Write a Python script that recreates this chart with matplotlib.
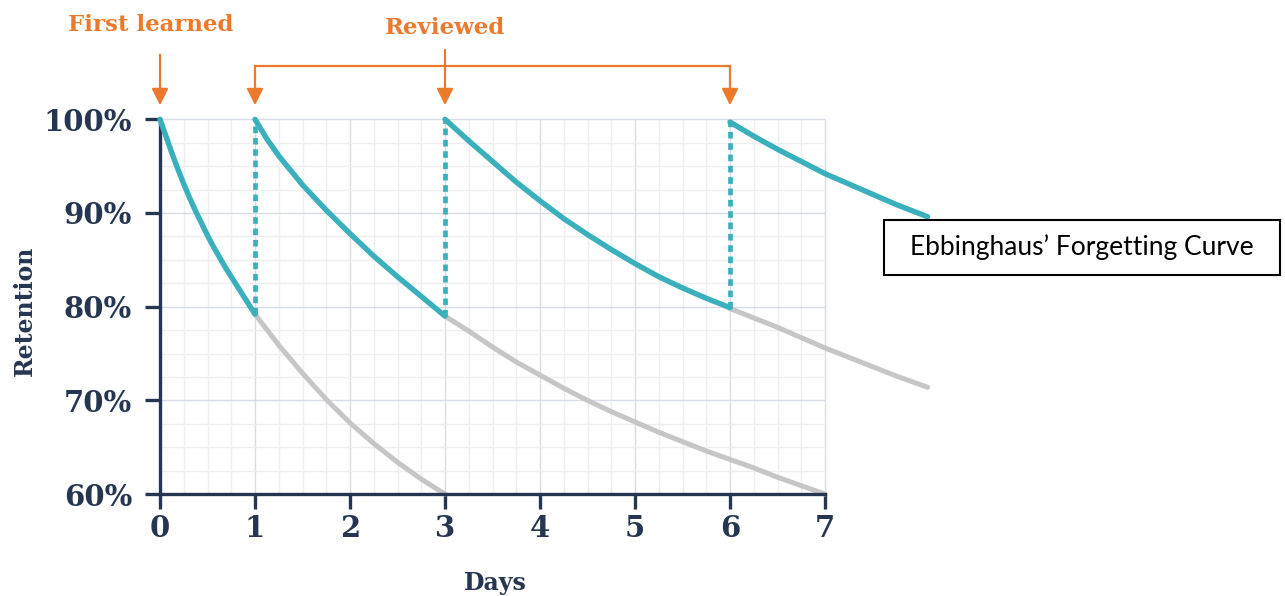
import numpy as np
import matplotlib
matplotlib.use("Agg")
import matplotlib.pyplot as plt
from matplotlib.patches import Rectangle

# colours
teal = "#3AB0BC"
grey = "#C6C6C6"
orange = "#EC7A2C"
navy = "#263650"
grid_major = "#D8DCE4"
grid_minor = "#ECEEF2"

# data (day, retention %)
learn_days = [0, 0.0625, 0.125, 0.1875, 0.25, 0.3125, 0.375, 0.4375, 0.5,
              0.5625, 0.625, 0.6875, 0.75, 0.8125, 0.875, 0.9375, 1.0]
learn_ret = [100, 98.2, 96.4, 94.7, 93.1, 91.6, 90.2, 88.9, 87.6,
             86.4, 85.3, 84.2, 83.2, 82.2, 81.2, 80.2, 79.2]

forget1_days = [1.0, 1.25, 1.5, 1.75, 2.0, 2.25, 2.5, 2.75, 3.0]
forget1_ret = [79.2, 75.9, 72.9, 70.1, 67.6, 65.4, 63.4, 61.6, 60.0]

review1_days = [1.0, 1.125, 1.25, 1.5, 1.75, 2.0, 2.25, 2.5, 2.75, 3.0]
review1_ret = [100, 97.9, 96.1, 93.0, 90.3, 87.8, 85.4, 83.2, 81.1, 79.0]

forget2_days = [3.0, 3.25, 3.5, 3.75, 4.0, 4.25, 4.5, 4.75, 5.0, 5.25, 5.5, 5.75, 6.0, 6.25, 6.5, 6.75, 7.0]
forget2_ret = [79.0, 77.4, 75.7, 74.1, 72.7, 71.3, 70.0, 68.8, 67.7, 66.6, 65.6, 64.6, 63.7, 62.8, 61.8, 60.9, 60.0]

review2_days = [3.0, 3.25, 3.5, 3.75, 4.0, 4.25, 4.5, 4.75, 5.0, 5.25, 5.5, 5.75, 6.0]
review2_ret = [100, 97.7, 95.5, 93.3, 91.3, 89.4, 87.7, 86.1, 84.6, 83.2, 82.0, 80.9, 79.9]

review3_days = [6.0, 6.25, 6.5, 6.75, 7.0, 7.25, 7.5, 7.75, 8.08]
review3_ret = [99.7, 98.2, 96.8, 95.5, 94.2, 93.1, 92.0, 90.9, 89.6]

forget3_days = [6.0, 6.25, 6.5, 6.75, 7.0, 7.25, 7.5, 7.75, 8.08]
forget3_ret = [79.8, 78.8, 77.8, 76.7, 75.6, 74.6, 73.6, 72.6, 71.4]

review_days = [1, 3, 6]
review_low = [79.2, 79.0, 79.9]

x_ticks = [0, 1, 2, 3, 4, 5, 6, 7]
y_ticks = [60, 70, 80, 90, 100]

fig = plt.figure(figsize=(12.85, 5.96), dpi=100)
ax = fig.add_axes([0, 0, 1, 1])
ax.set_xlim(-160 / 95, 1125 / 95)
ax.set_ylim(100 - 476.7 / 9.37, 100 + 119.3 / 9.37)
ax.patch.set_alpha(0)

# grid only inside the 0-7 / 60-100 box
for x in np.arange(0, 7.01, 0.25):
    c = grid_major if x % 1 == 0 else grid_minor
    ax.vlines(x, 60, 100, color=c, lw=1, zorder=0)
for y in np.arange(60, 100.1, 2.5):
    c = grid_major if y % 10 == 0 else grid_minor
    ax.hlines(y, 0, 7, color=c, lw=1, zorder=0)

# forgetting without review (grey)
for d, r in [(forget1_days, forget1_ret), (forget2_days, forget2_ret), (forget3_days, forget3_ret)]:
    ax.plot(d, r, color=grey, lw=3.6, solid_capstyle="round", solid_joinstyle="round",
            zorder=2, clip_on=False)

# curves after learning / reviewing (teal)
for d, r in [(learn_days, learn_ret), (review1_days, review1_ret),
             (review2_days, review2_ret), (review3_days, review3_ret)]:
    ax.plot(d, r, color=teal, lw=3.9, solid_capstyle="round", solid_joinstyle="round",
            zorder=3, clip_on=False)

# dotted jumps back to 100%
for d, lo in zip(review_days, review_low):
    ax.plot([d, d], [lo, 100], color=teal, lw=3.4, ls=(0, (1.4, 1.0)), zorder=3)

# axes
for s in ["top", "right"]:
    ax.spines[s].set_visible(False)
ax.spines["left"].set_position(("data", 0))
ax.spines["bottom"].set_position(("data", 60))
ax.spines["left"].set_bounds(60, 100)
ax.spines["bottom"].set_bounds(0, 7)
for s in ["left", "bottom"]:
    ax.spines[s].set_color(navy)
    ax.spines[s].set_linewidth(2.4)
ax.set_xticks(x_ticks)
ax.set_yticks(y_ticks)
ax.set_yticklabels([f"{v}%" for v in y_ticks])
ax.tick_params(axis="both", direction="out", length=11, width=2.4, color=navy,
               labelcolor=navy, labelsize=21)
ax.tick_params(axis="x", pad=3)
ax.tick_params(axis="y", pad=9)
for lab in ax.get_xticklabels() + ax.get_yticklabels():
    lab.set_family("DejaVu Serif")
    lab.set_fontweight("bold")

ax.text(3.53, 50.5, "Days", ha="center", va="center", fontsize=17,
        family="DejaVu Serif", fontweight="bold", color=navy)
ax.text(-1.42, 79.6, "Retention", ha="center", va="center", rotation=90,
        fontsize=17, family="DejaVu Serif", fontweight="bold", color=navy)

# orange annotations
ax.text(-0.1, 110.1, "First learned", ha="center", va="center", fontsize=16.5,
        family="DejaVu Serif", fontweight="bold", color=orange)
ax.text(3.0, 109.7, "Reviewed", ha="center", va="center", fontsize=16.5,
        family="DejaVu Serif", fontweight="bold", color=orange)

arrow = dict(arrowstyle="-|>,head_length=1.0,head_width=0.5", color=orange,
             lw=1.6, shrinkA=0, shrinkB=0)
ax.annotate("", xy=(0, 101.5), xytext=(0, 106.9), arrowprops=arrow, annotation_clip=False)
ax.annotate("", xy=(3, 101.5), xytext=(3, 107.4), arrowprops=arrow, annotation_clip=False)
ax.plot([1, 6], [105.7, 105.7], color=orange, lw=1.6, clip_on=False)
for d in [1, 6]:
    ax.annotate("", xy=(d, 101.5), xytext=(d, 105.7), arrowprops=arrow, annotation_clip=False)

# title box
ax.add_patch(Rectangle((7.621, 83.38), 4.168, 5.87, fill=False, ec="black",
                       lw=1.5, clip_on=False, zorder=5))
ax.text(7.621 + 4.168 / 2, 83.38 + 5.87 / 2, "Ebbinghaus\u2019 Forgetting Curve",
        ha="center", va="center", fontsize=19, family="Lato", color="black", zorder=6)

fig.savefig("out.png", dpi=100)
